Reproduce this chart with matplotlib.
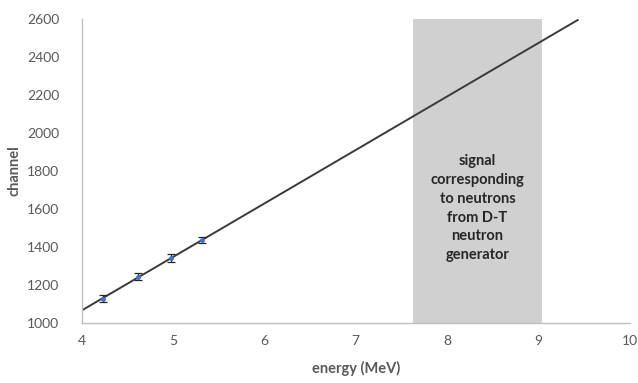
import numpy as np
import matplotlib
matplotlib.use("Agg")
import matplotlib.pyplot as plt

plt.rcParams['font.family'] = ['Lato', 'DejaVu Sans']

# measured points
energy = [4.23, 4.62, 4.98, 5.32]
channel = [1128, 1243, 1343, 1438]
channel_err = [20, 18, 20, 16]

# linear calibration fit
slope = 281.8
intercept = -62.0
fit_range = [4.0, 9.43]

# region of the D-T neutron signal
dt_region = [7.63, 9.04]
dt_label = "signal\ncorresponding\nto neutrons\nfrom D-T\nneutron\ngenerator"

xticks = [4, 5, 6, 7, 8, 9, 10]
yticks = [1000, 1200, 1400, 1600, 1800, 2000, 2200, 2400, 2600]

fig = plt.figure(figsize=(6.38, 3.83), dpi=100)
ax = fig.add_axes([0.128, 0.157, 0.859, 0.793])

ax.axvspan(dt_region[0], dt_region[1], color='#d0d0d0', lw=0, zorder=0)
ax.text(sum(dt_region) / 2, 1605, dt_label, ha='center', va='center',
        fontsize=10.5, fontweight='bold', color='#262626', linespacing=1.45)

xf = np.array(fit_range)
ax.plot(xf, slope * xf + intercept, color='#3a3a3a', lw=1.4, zorder=2)

ax.errorbar(energy, channel, yerr=channel_err, fmt='o', ms=2.5,
            color='#4472c4', ecolor='#262626', elinewidth=0.9, capsize=3,
            capthick=0.9, zorder=3)

ax.set_xlim(4, 10)
ax.set_ylim(1000, 2600)
ax.set_xticks(xticks)
ax.set_yticks(yticks)
ax.tick_params(axis='x', length=0, labelsize=10, colors='#595959', pad=9)
ax.tick_params(axis='y', length=0, labelsize=10, colors='#595959', pad=16)
for s in ['top', 'right']:
    ax.spines[s].set_visible(False)
for s in ['left', 'bottom']:
    ax.spines[s].set_color('#bfbfbf')
    ax.spines[s].set_linewidth(1.0)

ax.set_xlabel('energy (MeV)', fontsize=10.5, fontweight='bold',
              color='#595959', labelpad=10)
ax.set_ylabel('channel', fontsize=10.5, fontweight='bold',
              color='#595959', labelpad=4)

fig.savefig('out.png', dpi=100)
